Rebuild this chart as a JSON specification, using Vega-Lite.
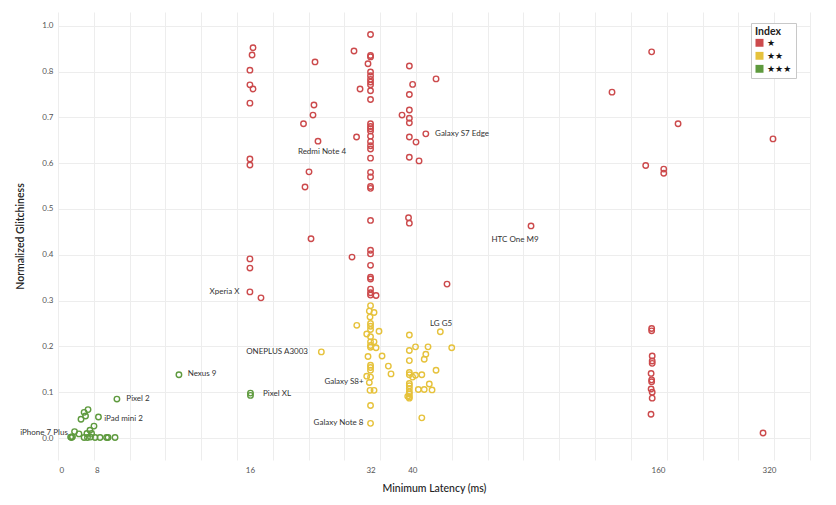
{
  "$schema": "https://vega.github.io/schema/vega-lite/v6.json",
  "width": 752,
  "height": 448,
  "autosize": {"type": "none"},
  "padding": {"left": 58, "top": 12, "right": 26, "bottom": 45},
  "background": "white",
  "config": {
    "view": {"stroke": null},
    "font": "Lato",
    "axis": {"labelFont": "Lato", "titleFont": "Lato", "labelColor": "#555555", "titleColor": "#222222", "gridColor": "#ededed", "gridWidth": 1},
    "legend": {"labelFont": "DejaVu Sans", "titleFont": "Lato"}
  },
  "datasets": {
    "pts": [
      {"lat": 16.29, "glitch": 0.852, "index": "★"},
      {"lat": 16.2, "glitch": 0.836, "index": "★"},
      {"lat": 16.0, "glitch": 0.803, "index": "★"},
      {"lat": 16.0, "glitch": 0.771, "index": "★"},
      {"lat": 16.29, "glitch": 0.762, "index": "★"},
      {"lat": 16.0, "glitch": 0.731, "index": "★"},
      {"lat": 16.0, "glitch": 0.609, "index": "★"},
      {"lat": 16.0, "glitch": 0.596, "index": "★"},
      {"lat": 16.0, "glitch": 0.391, "index": "★"},
      {"lat": 16.0, "glitch": 0.371, "index": "★"},
      {"lat": 16.0, "glitch": 0.319, "index": "★"},
      {"lat": 17.05, "glitch": 0.306, "index": "★"},
      {"lat": 23.26, "glitch": 0.821, "index": "★"},
      {"lat": 23.12, "glitch": 0.727, "index": "★"},
      {"lat": 22.99, "glitch": 0.705, "index": "★"},
      {"lat": 21.77, "glitch": 0.686, "index": "★"},
      {"lat": 23.66, "glitch": 0.648, "index": "★"},
      {"lat": 22.47, "glitch": 0.581, "index": "★"},
      {"lat": 21.96, "glitch": 0.548, "index": "★"},
      {"lat": 22.73, "glitch": 0.435, "index": "★"},
      {"lat": 29.1, "glitch": 0.845, "index": "★"},
      {"lat": 30.13, "glitch": 0.762, "index": "★"},
      {"lat": 29.53, "glitch": 0.657, "index": "★"},
      {"lat": 28.77, "glitch": 0.395, "index": "★"},
      {"lat": 31.54, "glitch": 0.817, "index": "★"},
      {"lat": 32, "glitch": 0.881, "index": "★"},
      {"lat": 32, "glitch": 0.835, "index": "★"},
      {"lat": 32, "glitch": 0.832, "index": "★"},
      {"lat": 32, "glitch": 0.799, "index": "★"},
      {"lat": 32, "glitch": 0.791, "index": "★"},
      {"lat": 32, "glitch": 0.783, "index": "★"},
      {"lat": 32, "glitch": 0.777, "index": "★"},
      {"lat": 32, "glitch": 0.771, "index": "★"},
      {"lat": 32, "glitch": 0.758, "index": "★"},
      {"lat": 32, "glitch": 0.739, "index": "★"},
      {"lat": 32, "glitch": 0.686, "index": "★"},
      {"lat": 32, "glitch": 0.68, "index": "★"},
      {"lat": 32, "glitch": 0.675, "index": "★"},
      {"lat": 32, "glitch": 0.67, "index": "★"},
      {"lat": 32, "glitch": 0.659, "index": "★"},
      {"lat": 32, "glitch": 0.647, "index": "★"},
      {"lat": 32, "glitch": 0.638, "index": "★"},
      {"lat": 32, "glitch": 0.631, "index": "★"},
      {"lat": 32, "glitch": 0.611, "index": "★"},
      {"lat": 32, "glitch": 0.58, "index": "★"},
      {"lat": 32, "glitch": 0.57, "index": "★"},
      {"lat": 32, "glitch": 0.549, "index": "★"},
      {"lat": 32, "glitch": 0.545, "index": "★"},
      {"lat": 32, "glitch": 0.475, "index": "★"},
      {"lat": 32, "glitch": 0.41, "index": "★"},
      {"lat": 32, "glitch": 0.402, "index": "★"},
      {"lat": 32, "glitch": 0.377, "index": "★"},
      {"lat": 32, "glitch": 0.351, "index": "★"},
      {"lat": 32, "glitch": 0.347, "index": "★"},
      {"lat": 32, "glitch": 0.325, "index": "★"},
      {"lat": 32, "glitch": 0.317, "index": "★"},
      {"lat": 32, "glitch": 0.312, "index": "★"},
      {"lat": 33.03, "glitch": 0.311, "index": "★"},
      {"lat": 40, "glitch": 0.812, "index": "★"},
      {"lat": 40.76, "glitch": 0.772, "index": "★"},
      {"lat": 40, "glitch": 0.75, "index": "★"},
      {"lat": 40, "glitch": 0.716, "index": "★"},
      {"lat": 38.35, "glitch": 0.705, "index": "★"},
      {"lat": 40, "glitch": 0.698, "index": "★"},
      {"lat": 40, "glitch": 0.688, "index": "★"},
      {"lat": 40, "glitch": 0.657, "index": "★"},
      {"lat": 41.56, "glitch": 0.646, "index": "★"},
      {"lat": 39.99, "glitch": 0.613, "index": "★"},
      {"lat": 42.29, "glitch": 0.605, "index": "★"},
      {"lat": 39.81, "glitch": 0.481, "index": "★"},
      {"lat": 40, "glitch": 0.469, "index": "★"},
      {"lat": 46.63, "glitch": 0.784, "index": "★"},
      {"lat": 43.97, "glitch": 0.664, "index": "★"},
      {"lat": 49.67, "glitch": 0.336, "index": "★"},
      {"lat": 80.49, "glitch": 0.463, "index": "★"},
      {"lat": 128.2, "glitch": 0.755, "index": "★"},
      {"lat": 161, "glitch": 0.843, "index": "★"},
      {"lat": 187.4, "glitch": 0.686, "index": "★"},
      {"lat": 323.4, "glitch": 0.653, "index": "★"},
      {"lat": 155.6, "glitch": 0.595, "index": "★"},
      {"lat": 172.6, "glitch": 0.587, "index": "★"},
      {"lat": 172.6, "glitch": 0.578, "index": "★"},
      {"lat": 161, "glitch": 0.239, "index": "★"},
      {"lat": 161, "glitch": 0.234, "index": "★"},
      {"lat": 161.5, "glitch": 0.179, "index": "★"},
      {"lat": 161.5, "glitch": 0.168, "index": "★"},
      {"lat": 161.5, "glitch": 0.163, "index": "★"},
      {"lat": 160.5, "glitch": 0.141, "index": "★"},
      {"lat": 161, "glitch": 0.127, "index": "★"},
      {"lat": 161, "glitch": 0.123, "index": "★"},
      {"lat": 160.5, "glitch": 0.107, "index": "★"},
      {"lat": 161.5, "glitch": 0.1, "index": "★"},
      {"lat": 161.5, "glitch": 0.087, "index": "★"},
      {"lat": 160.4, "glitch": 0.052, "index": "★"},
      {"lat": 305.4, "glitch": 0.011, "index": "★"},
      {"lat": 32, "glitch": 0.289, "index": "★★"},
      {"lat": 31.78, "glitch": 0.277, "index": "★★"},
      {"lat": 32.65, "glitch": 0.274, "index": "★★"},
      {"lat": 31.91, "glitch": 0.264, "index": "★★"},
      {"lat": 32, "glitch": 0.25, "index": "★★"},
      {"lat": 32, "glitch": 0.244, "index": "★★"},
      {"lat": 32, "glitch": 0.237, "index": "★★"},
      {"lat": 29.57, "glitch": 0.246, "index": "★★"},
      {"lat": 33.6, "glitch": 0.233, "index": "★★"},
      {"lat": 31.31, "glitch": 0.227, "index": "★★"},
      {"lat": 40, "glitch": 0.225, "index": "★★"},
      {"lat": 32, "glitch": 0.221, "index": "★★"},
      {"lat": 32, "glitch": 0.21, "index": "★★"},
      {"lat": 32.65, "glitch": 0.21, "index": "★★"},
      {"lat": 32, "glitch": 0.202, "index": "★★"},
      {"lat": 32, "glitch": 0.198, "index": "★★"},
      {"lat": 33.03, "glitch": 0.197, "index": "★★"},
      {"lat": 41.44, "glitch": 0.199, "index": "★★"},
      {"lat": 44.53, "glitch": 0.199, "index": "★★"},
      {"lat": 51.03, "glitch": 0.197, "index": "★★"},
      {"lat": 40, "glitch": 0.191, "index": "★★"},
      {"lat": 43.97, "glitch": 0.183, "index": "★★"},
      {"lat": 24.12, "glitch": 0.188, "index": "★★"},
      {"lat": 31.54, "glitch": 0.178, "index": "★★"},
      {"lat": 34.19, "glitch": 0.179, "index": "★★"},
      {"lat": 43.57, "glitch": 0.172, "index": "★★"},
      {"lat": 40, "glitch": 0.169, "index": "★★"},
      {"lat": 32, "glitch": 0.159, "index": "★★"},
      {"lat": 32, "glitch": 0.154, "index": "★★"},
      {"lat": 35.45, "glitch": 0.157, "index": "★★"},
      {"lat": 32, "glitch": 0.148, "index": "★★"},
      {"lat": 46.63, "glitch": 0.148, "index": "★★"},
      {"lat": 36, "glitch": 0.14, "index": "★★"},
      {"lat": 40, "glitch": 0.143, "index": "★★"},
      {"lat": 40, "glitch": 0.138, "index": "★★"},
      {"lat": 41.44, "glitch": 0.137, "index": "★★"},
      {"lat": 40.76, "glitch": 0.133, "index": "★★"},
      {"lat": 42.97, "glitch": 0.138, "index": "★★"},
      {"lat": 31.31, "glitch": 0.135, "index": "★★"},
      {"lat": 32, "glitch": 0.133, "index": "★★"},
      {"lat": 31.78, "glitch": 0.121, "index": "★★"},
      {"lat": 40, "glitch": 0.119, "index": "★★"},
      {"lat": 40, "glitch": 0.114, "index": "★★"},
      {"lat": 44.86, "glitch": 0.118, "index": "★★"},
      {"lat": 40, "glitch": 0.108, "index": "★★"},
      {"lat": 42.12, "glitch": 0.106, "index": "★★"},
      {"lat": 43.57, "glitch": 0.106, "index": "★★"},
      {"lat": 45.57, "glitch": 0.105, "index": "★★"},
      {"lat": 31.91, "glitch": 0.104, "index": "★★"},
      {"lat": 32.65, "glitch": 0.104, "index": "★★"},
      {"lat": 40, "glitch": 0.101, "index": "★★"},
      {"lat": 40, "glitch": 0.096, "index": "★★"},
      {"lat": 39.63, "glitch": 0.091, "index": "★★"},
      {"lat": 40, "glitch": 0.09, "index": "★★"},
      {"lat": 39.99, "glitch": 0.087, "index": "★★"},
      {"lat": 32, "glitch": 0.071, "index": "★★"},
      {"lat": 42.97, "glitch": 0.044, "index": "★★"},
      {"lat": 32, "glitch": 0.032, "index": "★★"},
      {"lat": 47.79, "glitch": 0.232, "index": "★★"},
      {"lat": 7.45, "glitch": 0.085, "index": "★★★"},
      {"lat": 6.31, "glitch": 0.062, "index": "★★★"},
      {"lat": 6.17, "glitch": 0.056, "index": "★★★"},
      {"lat": 6.22, "glitch": 0.048, "index": "★★★"},
      {"lat": 6.06, "glitch": 0.041, "index": "★★★"},
      {"lat": 6.7, "glitch": 0.046, "index": "★★★"},
      {"lat": 6.53, "glitch": 0.026, "index": "★★★"},
      {"lat": 6.38, "glitch": 0.017, "index": "★★★"},
      {"lat": 5.84, "glitch": 0.014, "index": "★★★"},
      {"lat": 5.99, "glitch": 0.009, "index": "★★★"},
      {"lat": 6.27, "glitch": 0.01, "index": "★★★"},
      {"lat": 6.44, "glitch": 0.01, "index": "★★★"},
      {"lat": 5.71, "glitch": 0.002, "index": "★★★"},
      {"lat": 5.77, "glitch": 0.003, "index": "★★★"},
      {"lat": 5.74, "glitch": 0.001, "index": "★★★"},
      {"lat": 6.17, "glitch": 0.001, "index": "★★★"},
      {"lat": 6.29, "glitch": 0.001, "index": "★★★"},
      {"lat": 6.4, "glitch": 0.002, "index": "★★★"},
      {"lat": 6.57, "glitch": 0.001, "index": "★★★"},
      {"lat": 6.76, "glitch": 0.001, "index": "★★★"},
      {"lat": 7.02, "glitch": 0.001, "index": "★★★"},
      {"lat": 7.08, "glitch": 0.001, "index": "★★★"},
      {"lat": 7.37, "glitch": 0.001, "index": "★★★"},
      {"lat": 16.05, "glitch": 0.098, "index": "★★★"},
      {"lat": 16.05, "glitch": 0.093, "index": "★★★"},
      {"lat": 10.64, "glitch": 0.138, "index": "★★★"}
    ],
    "labels": [
      {"name": "Galaxy S7 Edge", "lat": 54.14, "glitch": 0.664},
      {"name": "Redmi Note 4", "lat": 24.21, "glitch": 0.624},
      {"name": "HTC One M9", "lat": 73.42, "glitch": 0.432},
      {"name": "Xperia X", "lat": 13.83, "glitch": 0.319},
      {"name": "LG G5", "lat": 47.99, "glitch": 0.249},
      {"name": "ONEPLUS A3003", "lat": 18.7, "glitch": 0.187},
      {"name": "Nexus 9", "lat": 12.15, "glitch": 0.139},
      {"name": "Galaxy S8+", "lat": 27.48, "glitch": 0.122},
      {"name": "Pixel 2", "lat": 8.41, "glitch": 0.085},
      {"name": "Pixel XL", "lat": 18.7, "glitch": 0.097},
      {"name": "iPad mini 2", "lat": 7.74, "glitch": 0.041},
      {"name": "Galaxy Note 8", "lat": 26.62, "glitch": 0.033},
      {"name": "iPhone 7 Plus", "lat": 4.9, "glitch": 0.012}
    ]
  },
  "resolve": {"axis": {"x": "independent"}},
  "layer": [
    {
      "data": {"name": "pts"},
      "mark": {"type": "point", "shape": "circle", "filled": false, "size": 30, "strokeWidth": 1.4, "opacity": 1},
      "encoding": {
        "x": {
          "field": "lat", "type": "quantitative",
          "scale": {"type": "log", "domain": [5.31, 400], "nice": false, "zero": false},
          "axis": {"orient": "top", "values": [5.31, 6.523, 8.014, 9.845, 12.095, 14.858, 18.253, 22.424, 27.548, 33.843, 41.576, 51.076, 62.746, 77.08, 94.7, 116.34, 142.92, 175.58, 215.7, 264.98, 325.53, 399.9], "labels": false, "ticks": false, "domain": false, "grid": true, "title": null}
        },
        "y": {
          "field": "glitch", "type": "quantitative",
          "scale": {"domain": [-0.048, 0.93], "nice": false, "zero": false},
          "axis": {"values": [0, 0.1, 0.2, 0.3, 0.4, 0.5, 0.6, 0.7, 0.8, 0.9], "labelExpr": "datum.value > 0.85 ? '1.0' : format(datum.value, '.1f')", "ticks": false, "domain": false, "grid": true, "labelPadding": 5, "labelFontSize": 8, "title": "Normalized Glitchiness", "titleFontSize": 10.5, "titleFontWeight": 600, "titlePadding": 16}
        },
        "color": {
          "field": "index", "type": "nominal",
          "scale": {"domain": ["★", "★★", "★★★"], "range": ["#cc4a4c", "#e6c23c", "#5e9a3e"]},
          "legend": {
            "title": "Index", "orient": "none", "legendX": 693, "legendY": 11,
            "symbolType": "square", "symbolSize": 9, "symbolStrokeWidth": 5, "symbolOpacity": 1,
            "clipHeight": 8.5,
            "fillColor": "white", "strokeColor": "#c8c8c8", "padding": 4,
            "titleFontSize": 10.5, "titleFontWeight": "bold", "titleColor": "#222222", "titlePadding": 1,
            "labelFontSize": 9, "labelColor": "#111111", "rowPadding": 3, "labelOffset": 3
          }
        }
      }
    },
    {
      "data": {"name": "labels"},
      "mark": {"type": "text", "align": "center", "baseline": "middle", "fontSize": 8, "font": "Lato", "color": "#333333"},
      "encoding": {
        "x": {
          "field": "lat", "type": "quantitative",
          "scale": {"type": "log", "domain": [5.31, 400], "nice": false, "zero": false},
          "axis": {"orient": "bottom", "values": [5.34, 6.64, 16, 32, 40.7, 167, 316], "labelExpr": "datum.value < 6 ? '0' : datum.value < 10 ? '8' : datum.value < 20 ? '16' : datum.value < 35 ? '32' : datum.value < 50 ? '40' : datum.value < 200 ? '160' : '320'", "grid": false, "ticks": false, "domain": false, "labelPadding": 6, "labelFontSize": 8, "title": "Minimum Latency (ms)", "titleFontSize": 10.5, "titleFontWeight": 500, "titlePadding": 9}
        },
        "y": {
          "field": "glitch", "type": "quantitative",
          "scale": {"domain": [-0.048, 0.93], "nice": false, "zero": false},
          "axis": {"values": [0, 0.1, 0.2, 0.3, 0.4, 0.5, 0.6, 0.7, 0.8, 0.9], "labelExpr": "datum.value > 0.85 ? '1.0' : format(datum.value, '.1f')", "ticks": false, "domain": false, "grid": true, "labelPadding": 5, "labelFontSize": 8, "title": "Normalized Glitchiness", "titleFontSize": 10.5, "titleFontWeight": 600, "titlePadding": 16}
        },
        "text": {"field": "name"}
      }
    }
  ]
}
